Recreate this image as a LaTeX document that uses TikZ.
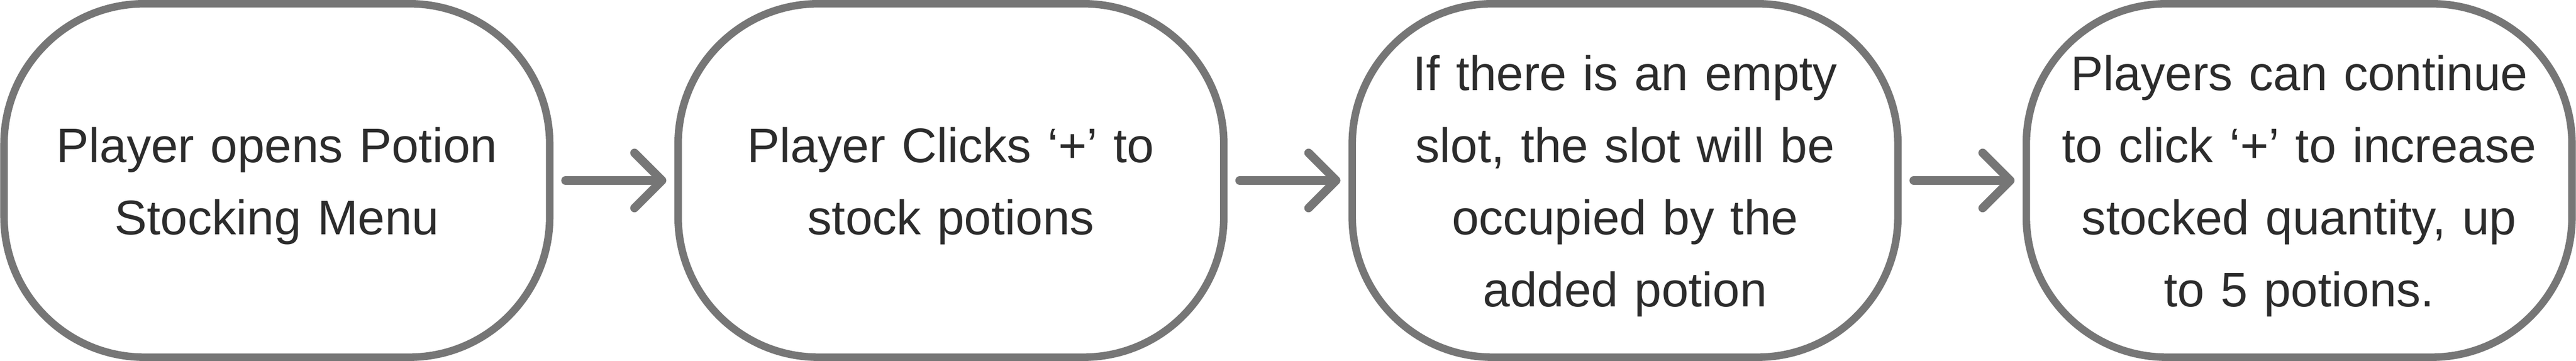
\documentclass[tikz,border=0pt]{standalone}
\usepackage{fontspec}
\setmainfont{Liberation Sans}
\usetikzlibrary{positioning,arrows.meta}
\definecolor{edgegray}{HTML}{767676}
\definecolor{textgray}{HTML}{2C2C2C}
\tikzset{
	stepnode/.style={draw=edgegray, line width=0.15cm, rounded corners=2.8cm,
		minimum width=10.88cm, minimum height=7.05cm, inner sep=0pt,
		text width=10.4cm, align=center, text=textgray,
		font=\fontsize{27.6pt}{41pt}\selectfont,
		execute at end node={\par\vspace*{-0.22cm}}},
	flowarrow/.style={draw=edgegray, line width=0.17cm, line cap=round,
		-{Straight Barb[length=0.55cm,width=1.1cm,round]},
		shorten <=0.24cm, shorten >=0.16cm}
}

\begin{document}
\begin{tikzpicture}
			%%%%% START %%%%%
			
			\useasboundingbox (0, 0) rectangle (51.36, 7.2);
			
			\node[stepnode] (open) at (5.52, 3.6) {Player opens Potion\\Stocking Menu};
			\node[stepnode, right=2.41cm of open] (click) {Player Clicks ‘+’ to\\stock potions};
			\node[stepnode, right=2.41cm of click] (slot) {If there is an empty\\slot, the slot will be\\occupied by the\\added potion};
			\node[stepnode, right=2.41cm of slot] (more) {Players can continue\\to click ‘+’ to increase\\stocked quantity, up\\to 5 potions.};
			
			\draw[flowarrow] (open) -- (click);
			\draw[flowarrow] (click) -- (slot);
			\draw[flowarrow] (slot) -- (more);
			
			%%%%% END %%%%%
\end{tikzpicture}
\end{document}
